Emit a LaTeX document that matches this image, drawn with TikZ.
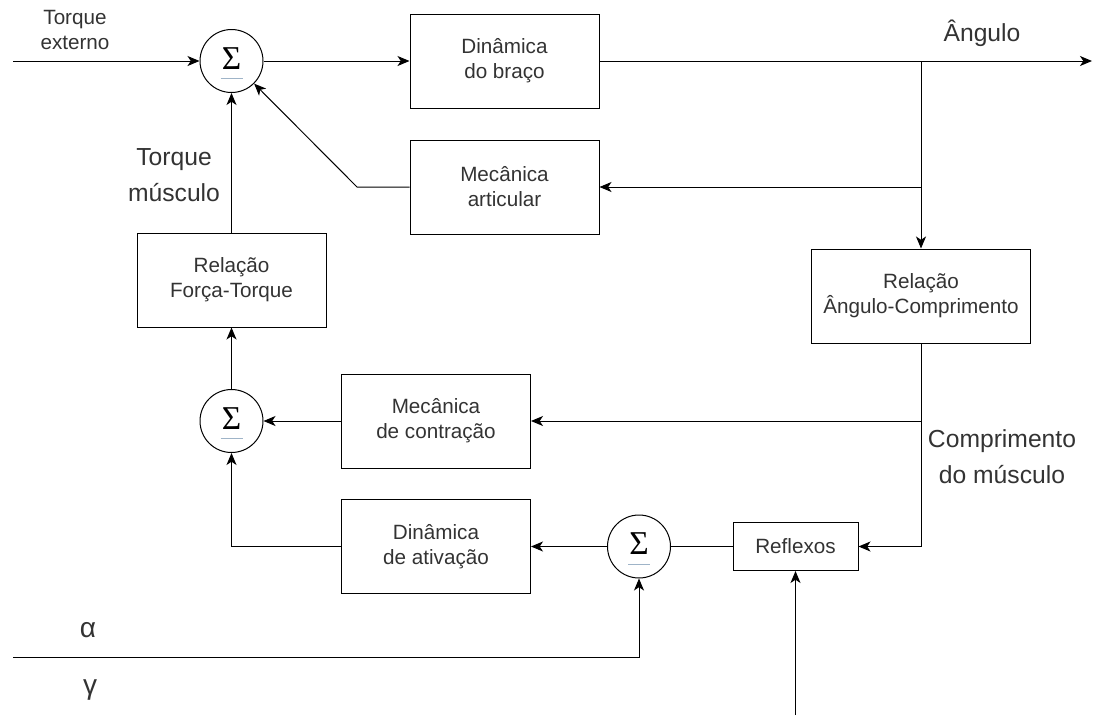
\documentclass[tikz,border=0pt]{standalone}
\usepackage{fontspec}
\setmainfont{Liberation Sans}
\newfontfamily\sigmafont{Liberation Serif}
\usetikzlibrary{arrows.meta, positioning}
\definecolor{sigmaline}{HTML}{9FB4C8}
\tikzset{
    block/.style = {rectangle, draw=black, line width=0.75pt, minimum width=141.75pt, minimum height=70.5pt, text centered, align=center, text=black!80, font=\fontsize{15.5}{18.75}\selectfont},
    sumnode/.style = {circle, draw=black, line width=0.75pt, minimum size=47.25pt, inner sep=0pt, text depth=4pt, font=\sigmafont\fontsize{25}{25}\selectfont,
        path picture={\draw[sigmaline, line width=0.75pt] ([xshift=-8.25pt,yshift=-13.25pt]path picture bounding box.center) -- ++(16.5pt,0pt);}},
    arrow/.style = {line width=0.75pt, -{Stealth[length=9pt, width=7.5pt, inset=2.5pt]}},
    wire/.style = {line width=0.75pt},
    lbl/.style = {align=center, text=black!80, font=\fontsize{18.5}{27}\selectfont},
    smalllbl/.style = {align=center, text=black!80, font=\fontsize{15.5}{18.75}\selectfont},
    greeklbl/.style = {text=black!80, font=\fontsize{21}{21}\selectfont}
}

\begin{document}
\begin{tikzpicture}[x=0.75pt, y=-0.75pt]
    \useasboundingbox (0,0) rectangle (1093,715);

    % Blocks and summing junctions
    \node[sumnode] (sumA) at (231.5,61) {Σ};
    \node[block] (braco) at (504.5,61) {Dinâmica\\do braço};
    \node[block] (articular) at (504.5,187) {Mecânica\\articular};
    \node[block] (forca) at (231.5,280) {Relação\\Força-Torque};
    \node[block, minimum width=164.25pt] (angcomp) at (921,296) {Relação\\Ângulo-Comprimento};
    \node[sumnode] (sumB) at (231.5,421) {Σ};
    \node[block] (contracao) at (436,421) {Mecânica\\de contração};
    \node[block] (ativacao) at (436,546.5) {Dinâmica\\de ativação};
    \node[sumnode] (sumC) at (639,546.5) {Σ};
    \node[block, minimum width=93.75pt, minimum height=36pt] (reflexos) at (795.5,546.5) {Reflexos};

    % Free ends and branch points
    \coordinate (inTorque) at (13,61);
    \coordinate (outAngle) at (1092,61);
    \coordinate (branchA) at (921,61);
    \coordinate (kneeA) at (357,187);
    \coordinate (branchB) at (921,421);
    \coordinate (inAlpha) at (13,657);
    \coordinate (inGamma) at (795.5,715);

    % Signals
    \draw[arrow] (inTorque) -- (sumA);
    \draw[arrow] (sumA) -- (braco);
    \draw[arrow] (braco) -- (outAngle);
    \draw[arrow] (branchA) |- (articular);
    \draw[arrow] (branchA) -- (angcomp);
    \draw[arrow] (articular) -- (kneeA) -- (sumA.-45);
    \draw[arrow] (forca) -- (sumA);
    \draw[arrow] (sumB) -- (forca);
    \draw[arrow] (contracao) -- (sumB);
    \draw[arrow] (angcomp) |- (reflexos);
    \draw[arrow] (branchB) -- (contracao);
    \draw[wire] (reflexos) -- (sumC);
    \draw[arrow] (sumC) -- (ativacao);
    \draw[arrow] (ativacao) -| (sumB);
    \draw[arrow] (inAlpha) -| (sumC);
    \draw[arrow] (inGamma) -- (reflexos);

    % Labels
    \node[smalllbl] (lblTorqueExt) at (75,30) {Torque\\externo};
    \node[lbl] (lblAngulo) at (982,33) {Ângulo};
    \node[lbl] (lblTorqueMusc) at (174,175) {Torque\\músculo};
    \node[lbl] (lblComp) at (1002,457) {Comprimento\\do músculo};
    \node[greeklbl] (lblAlpha) at (88,630) {α};
    \node[greeklbl] (lblGamma) at (90,690) {γ};
\end{tikzpicture}
\end{document}
